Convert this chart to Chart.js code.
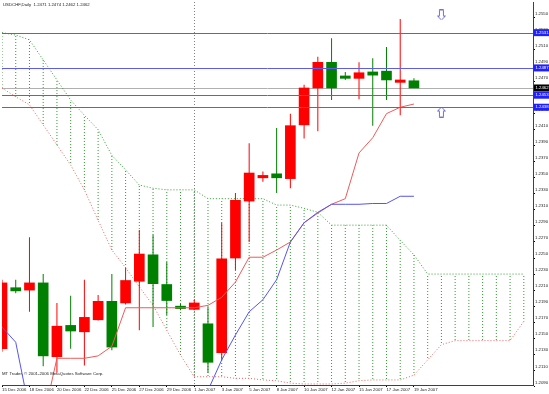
<!DOCTYPE html>
<html><head><meta charset="utf-8">
<script src="https://cdn.jsdelivr.net/npm/chart.js@4.4.1/dist/chart.umd.min.js"></script>
<style>html,body{margin:0;padding:0;background:#fff;}#wrap{width:549px;height:394px;}</style>
</head><body><div id="wrap"><canvas id="c" width="549" height="394"></canvas></div>
<script>
// ---------- data ----------
const chartTitle = "USDCHF,Daily  1.2471 1.2474 1.2462 1.2462";
const footerText = "MT Trader, \u00A9 2001-2006 MetaQuotes Software Corp.";
const dates = ["15 Dec 2006","17 Dec 2006","18 Dec 2006","19 Dec 2006","20 Dec 2006","21 Dec 2006","22 Dec 2006","24 Dec 2006","25 Dec 2006","26 Dec 2006","27 Dec 2006","28 Dec 2006","29 Dec 2006","31 Dec 2006","1 Jan 2007","2 Jan 2007","3 Jan 2007","4 Jan 2007","5 Jan 2007","7 Jan 2007","8 Jan 2007","9 Jan 2007","10 Jan 2007","11 Jan 2007","12 Jan 2007","14 Jan 2007","15 Jan 2007","16 Jan 2007","17 Jan 2007","18 Jan 2007","19 Jan 2007"];
const dateTickIdx = [0,2,4,6,8,10,12,14,16,18,20,22,24,26,28,30];
const openP  = [1.2137,1.2213,1.2210,1.2219,1.2127,1.2166,1.2158,1.2173,1.2196,1.2194,1.2221,1.2254,1.2217,1.2190,1.2186,1.2168,1.2132,1.2250,1.2321,1.2350,1.2355,1.2349,1.2416,1.2462,1.2494,1.2477,1.2474,1.2482,1.2483,1.2469,1.2471];
const highP  = [1.2223,1.2223,1.2276,1.2230,1.2194,1.2203,1.2223,1.2204,1.2230,1.2238,1.2285,1.2279,1.2245,1.2193,1.2198,1.2189,1.2294,1.2331,1.2393,1.2358,1.2412,1.2430,1.2466,1.2501,1.2524,1.2482,1.2494,1.2499,1.2513,1.2548,1.2474];
const lowP   = [1.2133,1.2206,1.2183,1.2115,1.2107,1.2137,1.2116,1.2172,1.2135,1.2192,1.2160,1.2164,1.2179,1.2185,1.2185,1.2107,1.2123,1.2235,1.2270,1.2345,1.2331,1.2337,1.2399,1.2408,1.2447,1.2472,1.2448,1.2415,1.2447,1.2428,1.2462];
const closeP = [1.2219,1.2209,1.2219,1.2128,1.2165,1.2159,1.2176,1.2196,1.2139,1.2222,1.2255,1.2218,1.2197,1.2187,1.2194,1.2120,1.2249,1.2322,1.2356,1.2353,1.2350,1.2415,1.2462,1.2494,1.2462,1.2474,1.2481,1.2478,1.2472,1.2472,1.2462];
const tenkan = [1.2030,1.2030,1.2030,1.2048,1.2125,1.2125,1.2125,1.2128,1.2140,1.2188,1.2188,1.2188,1.2188,1.2188,1.2188,1.2191,1.2201,1.2220,1.2251,1.2251,1.2260,1.2270,1.2294,1.2306,1.2317,1.2324,1.2381,1.2400,1.2430,1.2438,1.2442];
const kijun  = [1.2164,1.2145,1.2060,1.2060,1.2060,1.2060,1.2060,1.2060,1.2060,1.2060,1.2060,1.2060,1.2060,1.2060,1.2060,1.2085,1.2123,1.2154,1.2183,1.2198,1.2223,1.2270,1.2294,1.2307,1.2317,1.2317,1.2317,1.2318,1.2318,1.2327,1.2327];
const spanA  = [1.2462,1.2451,1.2441,1.2416,1.2391,1.2366,1.2335,1.2297,1.2260,1.2238,1.2214,1.2191,1.2160,1.2129,1.2102,1.2102,1.2102,1.2100,1.2100,1.2098,1.2097,1.2094,1.2093,1.2093,1.2093,1.2094,1.2097,1.2098,1.2098,1.2098,1.2104,1.2123,1.2142,1.2147,1.2147,1.2147,1.2147,1.2147,1.2171];
const spanB  = [1.2531,1.2528,1.2522,1.2497,1.2472,1.2447,1.2428,1.2410,1.2378,1.2360,1.2341,1.2337,1.2335,1.2335,1.2335,1.2324,1.2324,1.2324,1.2324,1.2324,1.2316,1.2316,1.2312,1.2307,1.2291,1.2291,1.2291,1.2291,1.2291,1.2272,1.2254,1.2230,1.2230,1.2230,1.2230,1.2230,1.2230,1.2230,1.2230];
const priceTicks = [1.2090,1.2110,1.2130,1.2150,1.2170,1.2190,1.2210,1.2230,1.2250,1.2270,1.2290,1.2310,1.2330,1.2350,1.2370,1.2390,1.2410,1.2430,1.2450,1.2470,1.2490,1.2510,1.2530,1.2550];
const hLinePrices = [1.2531,1.2487,1.2453,1.2438];
const bidPrice = 1.2462;
const separatorIdx = [14];
const arrowIdx = [32,32];
const arrowPrice = [1.2553,1.2432];
const arrowDir = ["down","up"];
const yMin = 1.20917, yMax = 1.25692, xMin = 0, xMax = 38.67;

// ---------- styles ----------
const BULL = '#ff0000', BEAR = '#008000';
const FONT = '"Liberation Sans", Arial, sans-serif';

function dotPattern(color){
  const c = document.createElement('canvas'); c.width = 1; c.height = 3;
  const g = c.getContext('2d'); g.fillStyle = color; g.fillRect(0,0,1,1);
  return document.getElementById('c').getContext('2d').createPattern(c,'repeat');
}
function arrowImg(dir, color){
  const c = document.createElement('canvas'); c.width = 9; c.height = 11;
  const g = c.getContext('2d'); g.strokeStyle = color; g.lineWidth = 1;
  const pts = [[4.5,0.5],[8.5,4.5],[6.5,4.5],[6.5,10.5],[2.5,10.5],[2.5,4.5],[0.5,4.5]];
  g.beginPath();
  pts.forEach((p,k)=>{ const y = dir==='up' ? p[1] : 11 - p[1]; if(k) g.lineTo(p[0],y); else g.moveTo(p[0],y); });
  g.closePath(); g.stroke();
  return c;
}

const candleColors = openP.map((o,i)=> closeP[i] >= o ? BULL : BEAR);
const bodies = openP.map((o,i)=>({x:i, y:[o, closeP[i]]}));
const wicks = lowP.map((l,i)=>({x:i, y:[l, highP[i]]}));
const hatch = spanA.map((a,i)=>({x:i, y:[a, spanB[i]]}));
const toXY = arr => arr.map((v,i)=>({x:i, y:v}));

const overlay = {
  id:'overlay',
  beforeDatasetsDraw(chart){
    const {ctx, chartArea:a, scales:{x,y}} = chart;
    ctx.save();
    ctx.strokeStyle = '#808080'; ctx.lineWidth = 1; ctx.setLineDash([1,2]);
    separatorIdx.forEach(i=>{ const px = Math.round(x.getPixelForValue(i))+0.5; ctx.beginPath(); ctx.moveTo(px,a.top); ctx.lineTo(px,a.bottom); ctx.stroke(); });
    ctx.setLineDash([]);
    ctx.strokeStyle = '#b0b0b0';
    const by = Math.round(y.getPixelForValue(bidPrice))+0.5;
    ctx.beginPath(); ctx.moveTo(a.left,by); ctx.lineTo(a.right,by); ctx.stroke();
    ctx.restore();
  },
  afterDatasetsDraw(chart){
    const {ctx, chartArea:a, scales:{y}} = chart;
    ctx.save();
    ctx.strokeStyle = '#5c5cf0'; ctx.lineWidth = 1;
    hLinePrices.forEach(p=>{ const py = Math.round(y.getPixelForValue(p))+0.5; ctx.beginPath(); ctx.moveTo(a.left,py); ctx.lineTo(a.right,py); ctx.stroke(); });
    ctx.fillStyle = '#222'; ctx.font = '4.3px ' + FONT; ctx.textBaseline = 'middle'; ctx.textAlign = 'left';
    ctx.fillText(chartTitle, 3, 5);
    ctx.fillText(footerText, 2, 374);
    ctx.restore();
  },
  afterDraw(chart){
    const {ctx, chartArea:a, scales:{y}} = chart;
    ctx.save();
    ctx.font = '4.3px ' + FONT; ctx.textBaseline = 'middle'; ctx.textAlign = 'left';
    const box = (p, bg) => { const py = y.getPixelForValue(p); ctx.fillStyle = bg; ctx.fillRect(a.right+1, py-3.5, 15, 7); ctx.fillStyle = '#fff'; ctx.fillText(p.toFixed(4), a.right+2.5, py); };
    hLinePrices.forEach(p=>box(p,'#1f1fff'));
    box(bidPrice,'#000');
    ctx.restore();
  }
};

new Chart(document.getElementById('c'), {
  type:'bar',
  data:{ datasets:[
    { type:'bar', label:'hatch', data:hatch, backgroundColor:dotPattern('#2e9e2e'), barThickness:1, grouped:false, clip:0, order:9, inflateAmount:0 },
    { type:'line', label:'spanA', data:toXY(spanA), borderColor:'#f06060', borderDash:[1,2], borderWidth:1, pointRadius:0, clip:0, order:8 },
    { type:'line', label:'spanB', data:toXY(spanB), borderColor:'#2ea02e', borderDash:[1,2], borderWidth:1, pointRadius:0, clip:0, order:7 },
    { type:'bar', label:'wicks', data:wicks, backgroundColor:candleColors, barThickness:1, grouped:false, clip:0, order:6, inflateAmount:0 },
    { type:'bar', label:'bodies', data:bodies, backgroundColor:candleColors, barThickness:10, grouped:false, clip:0, order:5 },
    { type:'line', label:'tenkan', data:toXY(tenkan), borderColor:'#ee5a5a', borderWidth:1, pointRadius:0, clip:0, order:4 },
    { type:'line', label:'kijun', data:toXY(kijun), borderColor:'#5555ee', borderWidth:1, pointRadius:0, clip:0, order:3 },
    { type:'line', label:'arrows', data:arrowIdx.map((v,i)=>({x:v, y:arrowPrice[i]})), showLine:false, pointStyle:arrowDir.map(d=>arrowImg(d,'#6f6fd8')), pointRadius:5, clip:0, order:1 }
  ]},
  options:{
    responsive:false, animation:false, events:[],
    layout:{ autoPadding:false, padding:{left:2, top:2, right:0, bottom:0} },
    plugins:{ legend:{display:false}, tooltip:{enabled:false}, title:{display:false} },
    scales:{
      x:{ type:'linear', offset:false, min:xMin, max:xMax,
          afterFit:s=>{ s.height = 9; s.paddingLeft = 0; s.paddingRight = 0; },
          afterBuildTicks:s=>{ s.ticks = dateTickIdx.map(v=>({value:v})); },
          grid:{ drawOnChartArea:false, drawTicks:true, tickLength:2, color:'#000', offset:false },
          border:{ display:true, color:'#404040' },
          ticks:{ font:{size:4.3, family:FONT}, color:'#222', padding:0, align:'start', maxRotation:0, minRotation:0, autoSkip:false, callback:v=>dates[v] } },
      y:{ type:'linear', position:'right', min:yMin, max:yMax,
          afterFit:s=>{ s.width = 16; s.paddingTop = 0; s.paddingBottom = 0; },
          afterBuildTicks:s=>{ s.ticks = priceTicks.map(v=>({value:v})); },
          grid:{ drawOnChartArea:false, drawTicks:true, tickLength:2, color:'#000' },
          border:{ display:true, color:'#404040' },
          ticks:{ font:{size:4.3, family:FONT}, color:'#222', padding:0, labelOffset:-4, autoSkip:false, callback:v=>v.toFixed(4) } }
    }
  },
  plugins:[overlay]
});
</script></body></html>
